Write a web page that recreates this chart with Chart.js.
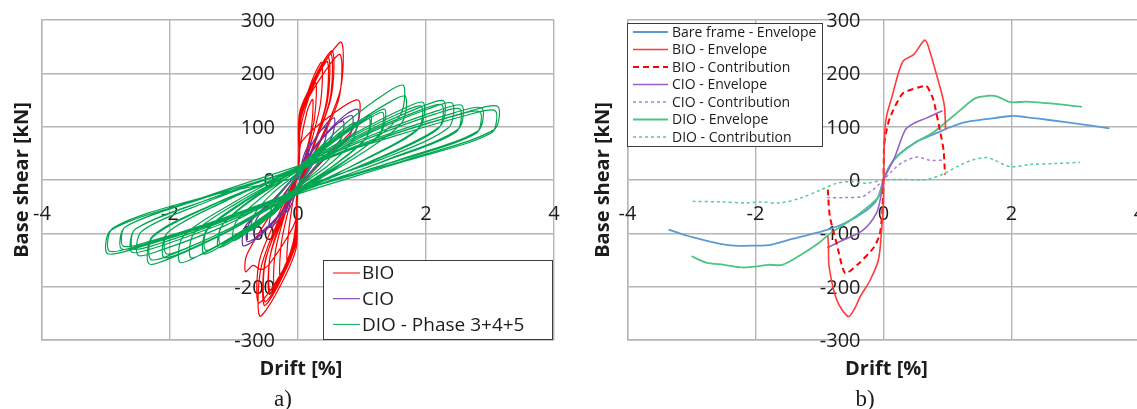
<!DOCTYPE html>
<html>
<head>
<meta charset="utf-8">
<script src="https://cdn.jsdelivr.net/npm/chart.js@4/dist/chart.umd.min.js"></script>
<style>
  html, body { margin: 0; padding: 0; background: #fff; overflow: hidden; width: 1137px; height: 409px; }
  #wrap { position: relative; width: 1137px; height: 409px; overflow: hidden; }
  canvas { position: absolute; top: 0; }
  #cA { left: 0; }
  #cB { left: 568px; }
</style>
</head>
<body>
<div id="wrap">
  <canvas id="cA" width="568" height="409"></canvas>
  <canvas id="cB" width="600" height="409"></canvas>
</div>
<script>
// Axis ticks shared by both panels
const driftTicks = [-4, -2, 0, 2, 4];
const shearTicks = [-300, -200, -100, 0, 100, 200, 300];

// Panel a) cyclic test histories: [drift %, base shear kN]
const bioPath = [
  [0,0],[0.03,60],[0.14,128],[0.23,151],
  [0.21,98],[0.10,38],[0,-20],[-0.03,-79],[-0.10,-133],[-0.17,-157],
  [-0.15,-102],[-0.08,-39],[0,20],[0.03,91],[0.17,155],[0.28,182],
  [0.26,118],[0.13,46],[0,-20],[-0.03,-91],[-0.17,-155],[-0.28,-182],
  [-0.26,-118],[-0.13,-46],[0,20],[0.03,110],[0.22,187],[0.37,220],
  [0.35,143],[0.17,55],[0,-20],[-0.03,-101],[-0.22,-171],[-0.37,-201],
  [-0.35,-131],[-0.17,-50],[0,20],[0.03,115],[0.29,195],[0.48,229],
  [0.46,149],[0.22,57],[0,-20],[-0.03,-107],[-0.27,-182],[-0.45,-214],
  [-0.43,-140],[-0.16,-48],[0.01,22],[0.04,112],[0.28,188],[0.46,222],
  [0.44,144],[0.21,55],[-0.01,-22],[-0.04,-104],[-0.26,-176],[-0.44,-207],
  [-0.43,-139],[-0.20,-54],[0,20],[0.03,121],[0.32,206],[0.54,242],
  [0.52,157],[0.24,61],[0,-20],[-0.03,-118],[-0.32,-200],[-0.53,-235],
  [-0.51,-150],[-0.19,-52],[0.01,22],[0.05,118],[0.33,200],[0.52,236],
  [0.50,152],[0.23,58],[-0.01,-22],[-0.04,-114],[-0.31,-195],[-0.52,-228],
  [-0.51,-153],[-0.24,-59],[0,20],[0.03,129],[0.41,219],[0.68,258],
  [0.66,168],[0.31,65],[0,-20],[-0.03,-128],[-0.36,-217],[-0.60,-255],
  [-0.58,-166],[-0.27,-64],[0,20],[0.03,118],[0.40,200],[0.66,235],
  [0.64,153],[0.30,59],[0,-20],[-0.03,-115],[-0.37,-196],[-0.62,-230],
  [-0.60,-150],[-0.28,-58],[0,20],[0.05,70],[0.50,120],[0.94,150],
  [0.92,106],[0.42,40],[0,-20],[-0.05,-80],[-0.45,-158],[-0.58,-168],[-0.70,-160],[-0.82,-172],
  [-0.80,-140],[-0.35,-50],[0,10]
];
const cioPath = [
  [0,0],[0.08,42],[0.16,65],[0.20,70],
  [0.16,49],[0.09,21],[0,-12],[-0.07,-36],[-0.14,-56],[-0.18,-60],
  [-0.14,-42],[-0.08,-18],[0,12],[0.18,60],[0.36,93],[0.45,100],
  [0.41,70],[0.20,30],[0,-15],[-0.18,-53],[-0.36,-82],[-0.45,-88],
  [-0.41,-62],[-0.20,-26],[0,15],[0.23,70],[0.46,108],[0.57,116],
  [0.53,81],[0.26,35],[0,-15],[-0.27,-61],[-0.54,-94],[-0.68,-101],
  [-0.64,-71],[-0.31,-30],[0,15],[0.28,66],[0.57,102],[0.71,110],
  [0.67,77],[0.32,33],[0,-15],[-0.34,-74],[-0.69,-114],[-0.86,-123],
  [-0.82,-86],[-0.39,-37],[0,15],[0.34,72],[0.68,112],[0.85,120],
  [0.81,84],[0.38,36],[0,-15],[-0.32,-69],[-0.64,-107],[-0.80,-115],
  [-0.76,-81],[-0.36,-35],[0,15],[0.38,79],[0.75,123],[0.94,132],
  [0.90,92],[0.42,40],[0,-10]
];
const dioPath = [
  [0,0],[0.13,30],[0.24,47],[0.28,50],
  [0.22,34],[0.15,14],[0,-8],[-0.10,-26],[-0.20,-41],[-0.23,-44],
  [-0.17,-30],[-0.13,-12],[0,8],[0.20,41],[0.38,64],[0.45,69],
  [0.39,47],[0.25,19],[0,-10],[-0.20,-41],[-0.38,-64],[-0.45,-69],
  [-0.39,-47],[-0.25,-19],[0.01,12],[0.31,53],[0.58,82],[0.68,88],
  [0.62,60],[0.37,25],[-0.01,-14],[-0.33,-56],[-0.63,-87],[-0.74,-94],
  [-0.68,-64],[-0.41,-26],[0.02,16],[0.41,64],[0.77,100],[0.91,107],
  [0.85,73],[0.50,30],[-0.02,-16],[-0.46,-68],[-0.87,-105],[-1.02,-113],
  [-0.96,-77],[-0.56,-32],[-0.02,18],[0.51,72],[0.97,112],[1.14,120],
  [1.08,82],[0.63,34],[0.02,-18],[-0.56,-76],[-1.06,-117],[-1.25,-126],
  [-1.19,-86],[-0.69,-33],[0.02,19],[0.50,68],[0.95,106],[1.12,114],
  [1.06,78],[0.62,32],[-0.02,-19],[-0.55,-72],[-1.04,-111],[-1.22,-120],
  [-1.19,-86],[-0.69,-35],[0.03,20],[0.61,79],[1.16,123],[1.36,132],
  [1.30,90],[0.75,37],[-0.03,-20],[-0.67,-83],[-1.26,-128],[-1.48,-138],
  [-1.42,-92],[-0.81,-37],[0.01,21],[0.60,75],[1.13,117],[1.33,126],
  [1.27,86],[0.73,35],[-0.01,-21],[-0.65,-79],[-1.23,-122],[-1.45,-131],
  [-1.42,-94],[-0.81,-39],[0,24],[0.74,106],[1.40,165],[1.65,177],
  [1.59,120],[0.91,50],[0.02,-24],[-0.76,-87],[-1.43,-135],[-1.68,-145],
  [-1.62,-99],[-0.92,-41],[-0.03,20],[0.76,94],[1.43,146],[1.68,157],
  [1.62,107],[0.92,44],[0.03,-20],[-0.83,-92],[-1.57,-143],[-1.85,-154],
  [-1.79,-105],[-1.02,-43],[0.02,26],[0.88,87],[1.67,135],[1.96,145],
  [1.90,99],[1.08,41],[-0.02,-26],[-0.95,-87],[-1.79,-135],[-2.10,-145],
  [-2.04,-99],[-1.15,-40],[0.01,23],[0.87,83],[1.64,128],[1.93,138],
  [1.87,94],[1.06,39],[-0.01,-23],[-0.93,-83],[-1.75,-128],[-2.06,-138],
  [-2.04,-99],[-1.16,-41],[-0.02,22],[1.03,89],[1.94,138],[2.28,148],
  [2.22,101],[1.25,41],[0.02,-22],[-1.05,-94],[-1.98,-146],[-2.33,-157],
  [-2.27,-105],[-1.28,-43],[0.02,21],[1.01,85],[1.91,131],[2.25,141],
  [2.19,96],[1.24,39],[-0.02,-21],[-1.04,-89],[-1.96,-139],[-2.30,-149],
  [-2.27,-107],[-1.28,-44],[0.03,18],[1.08,86],[2.05,134],[2.41,144],
  [2.35,98],[1.33,40],[-0.03,-18],[-1.13,-85],[-2.13,-131],[-2.50,-141],
  [-2.44,-96],[-1.38,-39],[0,24],[1.15,84],[2.18,130],[2.56,140],
  [2.50,95],[1.41,39],[0,-24],[-1.17,-81],[-2.21,-126],[-2.60,-135],
  [-2.54,-92],[-1.42,-37],[0.01,23],[1.14,80],[2.15,124],[2.53,133],
  [2.47,90],[1.39,37],[-0.01,-23],[-1.16,-77],[-2.19,-120],[-2.58,-129],
  [-2.54,-92],[-1.43,-38],[-0.03,20],[1.29,81],[2.44,126],[2.87,135],
  [2.81,92],[1.58,38],[0.03,-20],[-1.24,-77],[-2.35,-120],[-2.76,-129],
  [-2.70,-88],[-1.50,-35],[0.02,21],[1.28,77],[2.41,119],[2.84,128],
  [2.78,87],[1.56,36],[-0.02,-21],[-1.23,-74],[-2.32,-115],[-2.73,-124],
  [-2.70,-88],[-1.52,-36],[0.02,22],[1.40,83],[2.65,128],[3.12,138],
  [3.06,94],[1.72,39],[-0.02,-22],[-1.34,-83],[-2.53,-128],[-2.98,-138],
  [-2.92,-94],[-1.64,-39],[0,26],[1.39,78],[2.62,121],[3.08,130],
  [3.02,88],[1.69,36],[0,-26],[-1.33,-80],[-2.51,-124],[-2.95,-133],
  [-2.89,-90],[-1.62,-37],[0,5]
];

// Panel b) envelopes and infill contributions
const bareEnvelope = [
  [-3.36,-93],[-3.05,-105],[-2.43,-122],[-1.97,-123],[-1.75,-121],[-1.41,-110],[-0.95,-96],
  [-0.61,-81],[-0.27,-57],[-0.10,-36],[0,0],[0.10,27],[0.24,48],[0.52,72],[0.75,84],
  [0.98,96],[1.26,108],[1.60,114],[2.0,120],[2.22,118],[2.62,112],[3.13,104],[3.53,97]
];
const bioEnvelope = [
  [-0.87,-105],[-0.86,-122],[-0.85,-163],[-0.73,-225],[-0.55,-256],[-0.45,-241],[-0.37,-220],
  [-0.21,-188],[-0.08,-150],[-0.03,-94],[0,-38],[0,0],[0.02,90],[0.05,121],[0.125,153],
  [0.3,222],[0.47,235],[0.64,262],[0.69,254],[0.86,184],[0.95,140],[0.97,95]
];
const bioContribution = [
  [-0.87,-18],[-0.84,-67],[-0.73,-120],[-0.60,-175],[-0.39,-157],[-0.16,-128],[-0.06,-103],
  [-0.02,-62],[0,0],[0.01,65],[0.05,94],[0.10,117],[0.30,162],[0.66,177],[0.70,172],
  [0.78,150],[0.88,94],[0.94,55],[0.96,10]
];
const cioEnvelope = [
  [-0.88,-127],[-0.67,-115],[-0.32,-94],[-0.11,-62],[-0.04,-30],[0,0],[0.08,20],[0.18,44],
  [0.34,94],[0.47,106],[0.67,116],[0.92,130]
];
const cioContribution = [
  [-0.88,-33],[-0.60,-33],[-0.32,-31],[-0.25,-25],[-0.16,-18],[-0.07,-8],[0,0],
  [0.15,19],[0.31,34],[0.52,43],[0.73,37],[0.93,37]
];
const dioEnvelope = [
  [-3.0,-143],[-2.77,-155],[-2.49,-159],[-2.2,-164],[-1.97,-162],[-1.8,-159],[-1.58,-159],
  [-1.29,-140],[-1.01,-118],[-0.84,-101],[-0.5,-74],[-0.22,-48],[-0.07,-30],[0,0],[0.1,27],
  [0.24,47],[0.52,72],[0.75,87],[0.98,109],[1.2,131],[1.43,153],[1.64,158],[1.77,157],
  [1.98,146],[2.24,147],[2.56,144],[2.9,140],[3.1,137]
];
const dioContribution = [
  [-2.98,-40],[-2.55,-41],[-2.14,-43],[-1.93,-41],[-1.62,-43],[-1.30,-34],[-0.99,-19],
  [-0.73,-6],[-0.52,-3],[-0.26,-6],[0,0],[0.3,1],[0.57,0],[0.75,3],[0.93,11],[1.15,25],
  [1.4,38],[1.61,42],[1.72,38],[1.98,25],[2.29,29],[2.7,31],[3.07,33]
];

const toXY = arr => arr.map(p => ({ x: p[0], y: p[1] }));

const GRID = '#b5b5b5';
const TEXT = '#1c1c1c';

// Tick labels drawn next to the zero lines, plus axis titles and the panel caption
const crossAxes = {
  id: 'crossAxes',
  beforeDatasetsDraw(chart, args, o) {
    const { ctx } = chart;
    const xs = chart.scales.x, ys = chart.scales.y;
    const x0 = xs.getPixelForValue(0), y0 = ys.getPixelForValue(0);
    ctx.save();
    ctx.fillStyle = TEXT;
    ctx.font = '20px "Open Sans"';
    ctx.textBaseline = 'alphabetic';
    ctx.textAlign = 'right';
    ys.ticks.forEach(t => ctx.fillText(String(t.value), x0 - o.yGap, ys.getPixelForValue(t.value) + 7));
    ctx.textAlign = 'center';
    xs.ticks.forEach(t => ctx.fillText(String(t.value), xs.getPixelForValue(t.value), y0 + o.xGap));
    ctx.font = 'bold 20px "Open Sans"';
    ctx.fillText(o.xTitle, x0 + 3, o.xTitleY);
    ctx.save();
    ctx.translate(o.yTitleX, y0);
    ctx.rotate(-Math.PI / 2);
    ctx.textBaseline = 'middle';
    ctx.fillText(o.yTitle, 0, 0);
    ctx.restore();
    ctx.font = '23px "Liberation Serif"';
    ctx.fillText(o.caption, o.captionX, o.captionY);
    ctx.restore();
  }
};

// Framed legend listing each dataset with its own line style
const boxLegend = {
  id: 'boxLegend',
  afterDatasetsDraw(chart, args, o) {
    const { ctx } = chart;
    ctx.save();
    ctx.fillStyle = '#fff';
    ctx.fillRect(o.left, o.top, o.width, o.height);
    ctx.strokeStyle = '#3c3c3c';
    ctx.lineWidth = 1;
    ctx.strokeRect(o.left + 0.5, o.top + 0.5, o.width, o.height);
    ctx.font = o.font;
    ctx.textBaseline = 'middle';
    ctx.textAlign = 'left';
    chart.data.datasets.forEach((ds, i) => {
      const y = o.firstRow + i * o.rowStep;
      ctx.beginPath();
      ctx.strokeStyle = ds.borderColor;
      ctx.lineWidth = o.sampleWidth || ds.borderWidth;
      ctx.setLineDash(ds.borderDash || []);
      ctx.moveTo(o.sampleX, y);
      ctx.lineTo(o.sampleX + o.sampleLen, y);
      ctx.stroke();
      ctx.setLineDash([]);
      ctx.fillStyle = TEXT;
      ctx.fillText(ds.label, o.textX, y + o.textDy);
    });
    ctx.restore();
  }
};

function axis(ticks) {
  return {
    type: 'linear',
    min: ticks[0],
    max: ticks[ticks.length - 1],
    afterBuildTicks: s => { s.ticks = ticks.map(v => ({ value: v })); },
    ticks: { display: false },
    grid: { color: GRID, lineWidth: 1.4, drawTicks: false },
    border: { color: GRID, width: 1.4 }
  };
}

function makeChart(id, datasets, padding, axesOpts, legendOpts) {
  return new Chart(document.getElementById(id), {
    type: 'scatter',
    data: { datasets },
    options: {
      responsive: false,
      animation: false,
      events: [],
      layout: { padding },
      elements: { point: { radius: 0 } },
      plugins: {
        legend: { display: false },
        tooltip: { enabled: false },
        crossAxes: axesOpts,
        boxLegend: legendOpts
      },
      scales: { x: axis(driftTicks), y: axis(shearTicks) }
    },
    plugins: [crossAxes, boxLegend]
  });
}

function line(label, pts, color, width, dash, order, tension) {
  return {
    label, data: toXY(pts), showLine: true, borderColor: color, backgroundColor: color,
    borderWidth: width, borderDash: dash, order, tension, fill: false
  };
}

// a) hysteresis loops
makeChart('cA', [
  line('BIO', bioPath, '#ff0000', 1.2, [], 3, 0.3),
  line('CIO', cioPath, '#7030a0', 1.2, [], 2, 0.3),
  line('DIO - Phase 3+4+5', dioPath, '#00a651', 1.2, [], 1, 0.3)
], { left: 42, right: 14, top: 20, bottom: 69 }, {
  yGap: 23, xGap: 40, xTitle: 'Drift [%]', xTitleY: 375,
  yTitle: 'Base shear [kN]', yTitleX: 22, caption: 'a)', captionX: 283, captionY: 406
}, {
  left: 323, top: 260, width: 229, height: 79, firstRow: 273, rowStep: 25.7,
  sampleX: 333, sampleLen: 27, sampleWidth: 1, textX: 362, textDy: 1, font: '19px "Open Sans"'
});

// b) envelopes and infill contributions
makeChart('cB', [
  line('Bare frame - Envelope', bareEnvelope, '#5b9bd5', 1.8, [], 7, 0.3),
  line('BIO - Envelope', bioEnvelope, '#ff3b3b', 1.6, [], 1, 0.3),
  line('BIO - Contribution', bioContribution, '#ff0000', 2, [6, 4], 2, 0.2),
  line('CIO - Envelope', cioEnvelope, '#9560c8', 1.6, [], 3, 0.3),
  line('CIO - Contribution', cioContribution, '#a97fdc', 1.5, [3, 3], 4, 0.3),
  line('DIO - Envelope', dioEnvelope, '#4cc584', 1.8, [], 5, 0.3),
  line('DIO - Contribution', dioContribution, '#4fd08f', 1.5, [3, 3], 6, 0.3)
], { left: 59.5, right: 28.5, top: 20, bottom: 69 }, {
  yGap: 23, xGap: 40, xTitle: 'Drift [%]', xTitleY: 375,
  yTitle: 'Base shear [kN]', yTitleX: 35, caption: 'b)', captionX: 297, captionY: 406
}, {
  left: 59, top: 23, width: 195, height: 123, firstRow: 32, rowStep: 17.5,
  sampleX: 65, sampleLen: 35, textX: 104, textDy: 1, font: '14px "Open Sans"'
});
</script>
</body>
</html>
